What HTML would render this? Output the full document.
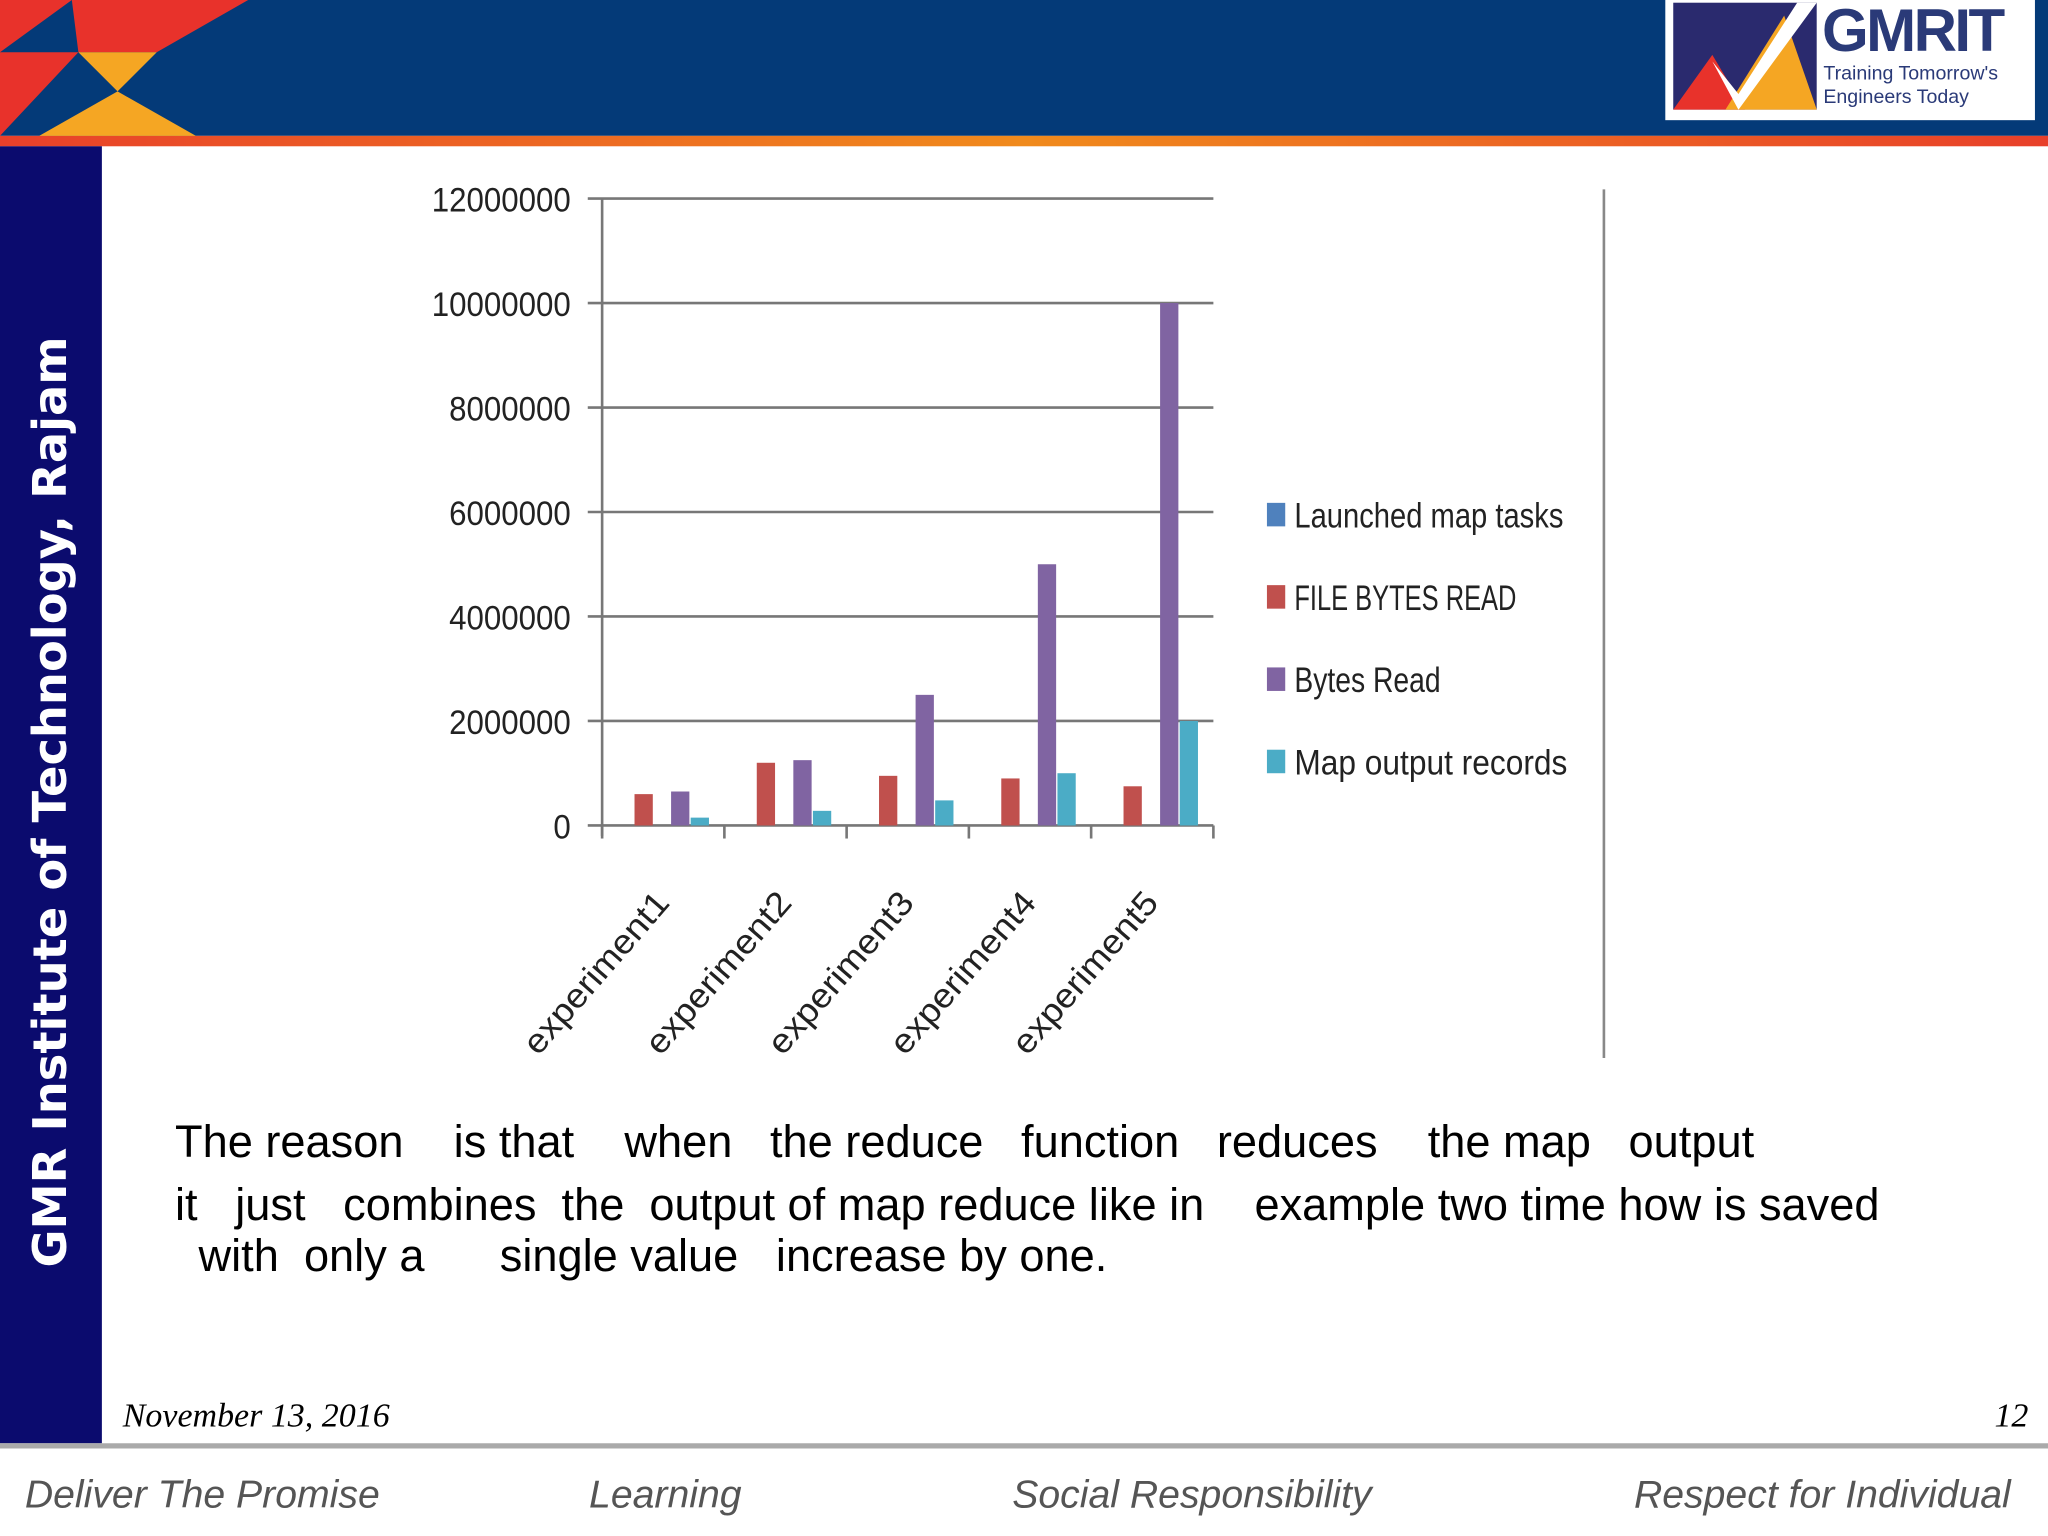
<!DOCTYPE html>
<html><head><meta charset="utf-8">
<style>
html,body{margin:0;padding:0;width:2048px;height:1536px;overflow:hidden;background:#fff}
#wrap{position:absolute;left:0;top:0;width:1568px;height:1176px;transform:scale(1.306122);transform-origin:0 0;font-family:"Liberation Sans",sans-serif}
.abs{position:absolute}
.para{position:absolute;font-size:34.6px;color:#000;white-space:pre}
.foot{position:absolute;top:1128px;font-size:30px;font-style:italic;color:#555;white-space:pre}
</style></head><body>
<div id="wrap">
  <div class="abs" style="left:0;top:0;width:1568px;height:104px;background:#043a78"></div>
  <div class="abs" style="left:0;top:104px;width:1568px;height:8px;background:linear-gradient(90deg,#e8402a,#f08a1c 50%,#e8402a)"></div>
  <svg class="abs" style="left:0;top:0" width="200" height="112">
    <polygon points="0,0 55,0 0,40" fill="#e8322b"/>
    <polygon points="55,0 190,0 120,40 60,40" fill="#e8322b"/>
    <polygon points="60,40 120,40 90,70" fill="#f5a623"/>
    <polygon points="0,40 60,40 0,104" fill="#e8322b"/>
    <polygon points="30,104 90,70 150,104" fill="#f5a623"/>
  </svg>
  <div class="abs" style="left:1275px;top:0;width:283px;height:92px;background:#fff">
    <svg class="abs" style="left:6px;top:2px" width="110" height="82">
      <rect x="0" y="0" width="110" height="82" fill="#2a2a6e"/>
      <polygon points="0,82 30,40 55,82" fill="#e8322b"/>
      <polygon points="40,82 85,10 110,82" fill="#f5a623"/>
      <polygon points="30,45 50,70 95,0 110,0 50,82" fill="#fff"/>
    </svg>
    <div class="abs" style="left:120px;top:-4px;font-size:46px;font-weight:bold;color:#2a3a78;letter-spacing:-2px">GMRIT</div>
    <div class="abs" style="left:121px;top:48px;font-size:15px;color:#2a3a78;line-height:18px">Training Tomorrow's<br>Engineers Today</div>
  </div>
  <div class="abs" style="left:0;top:112px;width:78px;height:993px;background:#0b0b6e"></div>
  <div class="abs" style="left:39px;top:614px;transform:translate(-50%,-50%) rotate(-90deg);white-space:nowrap;color:#fff;font-weight:bold;font-size:35.5px;font-family:'DejaVu Sans',sans-serif">GMR Institute of Technology, Rajam</div>

  <svg id="chart" class="abs" style="left:0;top:0" width="1568" height="830"></svg>

  <div class="para" style="left:134px;top:856px">The reason    is that    when   the reduce   function   reduces    the map   output</div>
  <div class="para" style="left:134px;top:904px">it   just   combines  the  output of map reduce like in    example two time how is saved</div>
  <div class="para" style="left:152px;top:943px">with  only a      single value   increase by one.</div>

  <div class="abs" style="left:94px;top:1069px;font-family:'Liberation Serif',serif;font-style:italic;font-size:26px">November 13, 2016</div>
  <div class="abs" style="left:1527px;top:1069px;font-family:'Liberation Serif',serif;font-style:italic;font-size:26px">12</div>
  <div class="abs" style="left:0;top:1105px;width:1568px;height:4px;background:#aaa"></div>
  <div class="foot" style="left:19px">Deliver The Promise</div>
  <div class="foot" style="left:451px">Learning</div>
  <div class="foot" style="left:775px">Social Responsibility</div>
  <div class="foot" style="left:1251px">Respect for Individual</div>
</div>
<script>
const categories=["experiment1","experiment2","experiment3","experiment4","experiment5"];
const seriesNames=["Launched map tasks","FILE BYTES READ","Bytes Read","Map output records"];
const launched=[10,20,30,40,50];
const fileBytes=[600000,1200000,950000,900000,750000];
const bytesRead=[650000,1250000,2500000,5000000,10000000];
const mapOutput=[150000,280000,480000,1000000,2000000];
const yTicks=[0,2000000,4000000,6000000,8000000,10000000,12000000];
const colors=["#4f81bd","#c0504d","#8064a2","#4bacc6"];
const legendWidths=[206,170,112,209];

const NS="http://www.w3.org/2000/svg";
const svg=document.getElementById('chart');
const X0=461,X1=929,Y0=632,Y1=152,YMAX=12000000;
const y=v=>Y0-(v/YMAX)*(Y0-Y1);
const bandW=(X1-X0)/categories.length;
const bandX=i=>X0+i*bandW;
function mk(t,a){const e=document.createElementNS(NS,t);for(const k in a)e.setAttribute(k,a[k]);svg.appendChild(e);return e;}
yTicks.forEach(v=>{
  const g=mk('line',{x1:450,x2:X1,y1:y(v),y2:y(v),stroke:'#777','stroke-width':2});
  
  
  const t=mk('text',{x:437,y:y(v)+10,'text-anchor':'end','font-size':26,'font-family':'Liberation Sans, sans-serif',fill:'#222',textLength:String(v).length*13.3,lengthAdjust:'spacingAndGlyphs'});
  t.textContent=v;
  
  
});
const ax=mk('line',{x1:X0,x2:X0,y1:Y1,y2:Y0+8,stroke:'#777','stroke-width':2});


for(let i=0;i<=categories.length;i++){
  const tk=mk('line',{x1:bandX(i),x2:bandX(i),y1:Y0,y2:Y0+10,stroke:'#777','stroke-width':2});
  
  
}
const allSeries=[launched,fileBytes,bytesRead,mapOutput];
const offs=[-30,-15,13,28],bw=14;
categories.forEach((c,i)=>{
  const cx=bandX(i)+bandW/2;
  allSeries.forEach((s,j)=>{
    const r=mk('rect',{x:cx+offs[j]-bw/2,y:y(s[i]),width:bw,height:Y0-y(s[i]),fill:colors[j]});
    
    
  });
  const ax_=cx+6,ay=Y0+60;
  const t=mk('text',{x:ax_,y:ay,'text-anchor':'end','font-size':26,'font-family':'Liberation Sans, sans-serif',fill:'#222',transform:`rotate(-49 ${ax_} ${ay})`,textLength:155,lengthAdjust:'spacingAndGlyphs'});
  t.textContent=c;
  
  
});
seriesNames.forEach((n,j)=>{
  const yy=396+j*63;
  const r=mk('rect',{x:970,y:yy-11,width:14,height:18,fill:colors[j]});
  
  
  const t=mk('text',{x:991,y:yy+8,'font-size':27,'font-family':'Liberation Sans, sans-serif',fill:'#222',textLength:legendWidths[j],lengthAdjust:'spacingAndGlyphs'});
  t.textContent=n;
  
  
});
const vl=mk('line',{x1:1228,x2:1228,y1:145,y2:810,stroke:'#888','stroke-width':2});


</script>
</body></html>
